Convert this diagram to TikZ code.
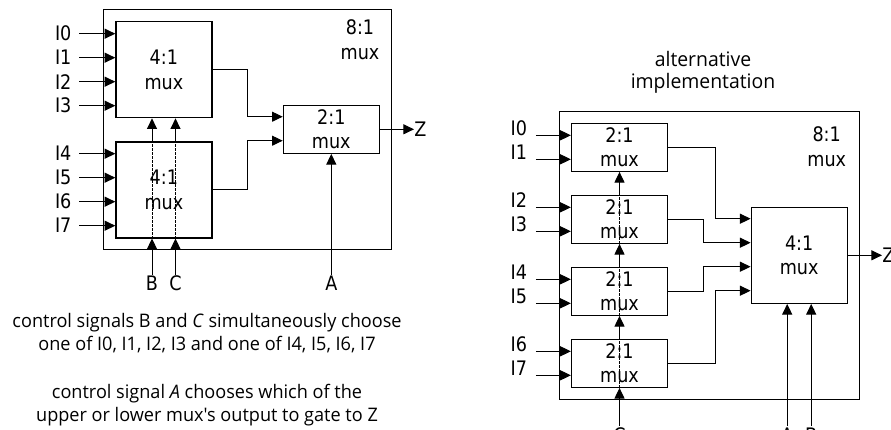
\documentclass[tikz,border=0pt]{standalone}
\usepackage{fontspec}
\setmainfont{DejaVu Sans}[FakeStretch=0.88]
\newfontfamily\notefont{Open Sans}[Ligatures=TeXOff,FakeStretch=0.97]
\usetikzlibrary{arrows.meta,positioning,calc}

\tikzset{
  wire/.style={line width=0.75pt},
  sig/.style={wire,-{Triangle[length=8pt,width=7.5pt]}},
  sel/.style={line width=0.45pt,dash pattern=on 2pt off 1pt},
  big/.style={draw,line width=0.9pt,inner sep=0pt},
  mux/.style={draw,line width=0.9pt,inner sep=0pt,align=center,
    font=\fontsize{15}{18.5}\selectfont},
  pin/.style={inner sep=1pt,font=\fontsize{15}{18.5}\selectfont},
  note/.style={align=center,inner sep=0pt,font=\notefont\fontsize{14}{16.9}\selectfont},
}

\begin{document}
\begin{tikzpicture}[x=0.75pt,y=-0.75pt]
  \useasboundingbox (0,0) rectangle (891,429);

  % --- left: two 4:1 muxes and a 2:1 -----------------------------------
  \node[big,minimum width=216.3pt,minimum height=180pt] (outL) at (247.5,129.3) {};
  \node[mux,minimum width=72pt,minimum height=72pt] (muxA) at (163.9,69.7) {4:1\\mux};
  \node[mux,minimum width=72pt,minimum height=72pt] (muxB) at (163.9,189.9) {4:1\\mux};
  \node[mux,minimum width=72pt,minimum height=36pt] (muxZ) at (331.3,129.3) {2:1\\mux};
  \node[pin,align=center] (nameL) at (360,39.5) {8:1\\mux};

  \foreach \n in {0,...,3} {
    \node[pin,anchor=east] (i\n) at (73,{33.7+24*\n}) {I\n};
    \draw[sig,shorten <=4.5pt] (i\n.east) -- (i\n.east -| muxA.west);
  }
  \foreach \n in {4,...,7} {
    \node[pin,anchor=east] (i\n) at (73,{153.7+24*(\n-4)}) {I\n};
    \draw[sig,shorten <=4.5pt] (i\n.east) -- (i\n.east -| muxB.west);
  }

  \draw[sig] (muxA.east) -- ++(34.7,0) |- ($(muxZ.north west)+(0,12)$);
  \draw[sig] (muxB.east) -- ++(34.7,0) |- ($(muxZ.north west)+(0,36)$);
  \node[pin,anchor=west,inner sep=0pt] (zL) at (414,129.3) {Z};
  \draw[sig] (muxZ.east) -- (zL.west);

  % select lines
  \node[pin,anchor=north] (cB) at (152,274.5) {B};
  \node[pin,anchor=north] (cC) at (175.5,274.5) {C};
  \node[pin,anchor=north] (cA) at (331.3,274.5) {A};
  \foreach \s in {cB,cC} {
    \draw[sig] (\s.north) -- (\s.north |- muxB.south);
    \draw[sel] (\s.north |- muxB.south) -- (\s.north |- muxB.north);
    \draw[sig] (\s.north |- muxB.north) -- (\s.north |- muxA.south);
  }
  \draw[sig] (cA.north) -- (cA.north |- muxZ.south);

  \node[note] (capBC) at (207,333)
    {control signals B and \textit{C} simultaneously choose\\one of I0, I1, I2, I3 and one of I4, I5, I6, I7};
  \node[note] (capA) at (207,405)
    {control signal \textit{A} chooses which of the\\upper or lower mux's output to gate to Z};

  % --- right: four 2:1 muxes and a 4:1 ---------------------------------
  \node[note,font=\notefont\fontsize{15}{16.7}\selectfont] (title) at (703,72)
    {alternative\\implementation};
  \node[big,minimum width=225pt,minimum height=215.7pt] (outR) at (709.3,255.5) {};
  \foreach \k in {1,...,4}
    \node[mux,minimum width=72pt,minimum height=36pt] (m\k) at (619.5,{147.3+72*(\k-1)}) {2:1\\mux};
  \node[mux,minimum width=72pt,minimum height=72pt] (mq) at (799.2,255.3) {4:1\\mux};
  \node[pin,align=center] (nameR) at (826.7,146.5) {8:1\\mux};

  \foreach \k in {1,...,4} {
    \pgfmathtruncatemacro\a{2*\k-2}
    \pgfmathtruncatemacro\b{2*\k-1}
    \node[pin,anchor=base east] (r\a) at (528.6,{135.3+72*(\k-1)}) {I\a};
    \node[pin,anchor=base east] (r\b) at (528.6,{159.3+72*(\k-1)}) {I\b};
    \draw[sig,shorten <=5.5pt] (r\a.base east) -- (r\a.base east -| m\k.west);
    \draw[sig,shorten <=5.5pt] (r\b.base east) -- (r\b.base east -| m\k.west);
  }

  \draw[sig] (m1.east) -- ++(47.3,0) |- ($(mq.north west)+(0,12)$);
  \draw[sig] (m2.east) -- ++(35.6,0) |- ($(mq.north west)+(0,36)$);
  \draw[sig] (m3.east) -- ++(35.6,0) |- ($(mq.north west)+(0,60)$);
  \draw[sig] (m4.east) -- ++(47.3,0) |- ($(mq.north west)+(0,84)$);
  \node[pin,anchor=west,inner sep=0pt] (zR) at (882,255.3) {Z};
  \draw[sig] (mq.east) -- (zR.west);

  % select lines
  \node[pin,anchor=north] (rC) at (619.5,426) {C};
  \node[pin,anchor=north] (rA) at (787.2,426) {A};
  \node[pin,anchor=north] (rB) at (811.2,426) {B};
  \draw[sig] (rC.north) -- (m4.south);
  \foreach \k/\j in {4/3,3/2,2/1} {
    \draw[sel] (m\k.south) -- (m\k.north);
    \draw[sig] (m\k.north) -- (m\j.south);
  }
  \draw[sig] (rA.north) -- (rA.north |- mq.south);
  \draw[sig] (rB.north) -- (rB.north |- mq.south);
\end{tikzpicture}
\end{document}
